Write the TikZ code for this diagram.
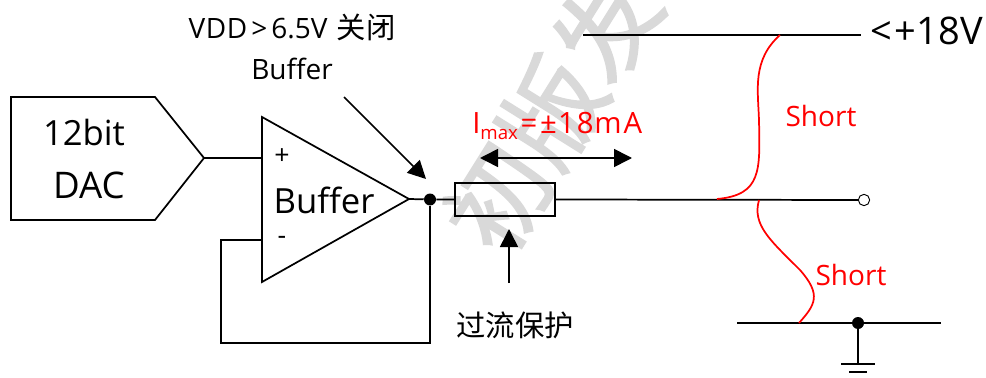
\documentclass[tikz,border=0pt]{standalone}
\usepackage{fontspec}
\setmainfont{Open Sans}
\newfontfamily\cjk{Noto Sans CJK SC}
\newfontfamily\wmfont[FakeBold=1.6]{Noto Sans CJK SC}
\usetikzlibrary{arrows.meta}
\definecolor{wm}{RGB}{217,217,217}
\tikzset{
  x=0.75pt,y=-0.75pt,
  thinw/.style={line width=1.3pt,black},
  redc/.style={line width=1.3pt,red},
  arr/.style={line width=1.2pt,black,-{Triangle[length=13.5pt,width=13.5pt]}},
  darr/.style={line width=1.2pt,black,{Triangle[length=13.5pt,width=13.5pt]}-{Triangle[length=13.5pt,width=13.5pt]}},
  lab/.style={inner sep=0pt,font=\fontsize{21}{25}\selectfont},
  big/.style={inner sep=0pt,font=\fontsize{26}{30}\selectfont},
  dotn/.style={circle,fill=black,inner sep=0pt,minimum size=9pt},
}
\begin{document}
\begin{tikzpicture}
\useasboundingbox (0,0) rectangle (986,378);
% watermark
\begin{scope}
\clip (0,0) rectangle (986,378);
\node[text=wm,rotate=58,inner sep=0pt,font=\wmfont\fontsize{76}{78}\selectfont] (wmark) at (552,112) {初版发};
\end{scope}
% DAC
\draw[thinw] (11,97) -- (155,97) -- (204,158) -- (155,220) -- (11,220) -- cycle;
\coordinate (dacout) at (204,158);
\node[big] (t12) at (84,133) {12bit};
\node[big,font=\fontsize{27.5}{30}\selectfont] (tdac) at (89,185) {DAC};
% opamp
\draw[thinw] (262,117) -- (409,199) -- (262,282) -- cycle;
\coordinate (opout) at (409,199);
\coordinate (opp) at (262,158);
\coordinate (opm) at (262,240);
\node[big] (tbuf) at (324,200) {Buffer};
\node[lab,font=\fontsize{20}{22}\selectfont] (tplus) at (282,157) {+};
\node[lab,font=\fontsize{20}{22}\selectfont] (tminus) at (282,240) {-};
\draw[thinw] (dacout) -- (opp);
\node[dotn] (jn) at (430,199.5) {};
\node[draw=black,line width=1.3pt,minimum width=74.5pt,minimum height=24.5pt,inner sep=0pt] (res) at (505,199.5) {};
\draw[thinw] (opout) -- (jn) -- (res.west);
\draw[thinw] (opm) -- (221,240) -- (221,343) -- (430,343) -- (jn);
% output
\node[circle,draw=black,line width=.7pt,fill=white,minimum size=8.5pt,inner sep=0pt] (outc) at (864,200) {};
\draw[thinw] (res.east) -- (outc);
% supply
\coordinate (sa) at (583,35);
\coordinate (sb) at (861,35);
\draw[thinw] (sa) -- (sb);
\node[big,anchor=east,font=\fontsize{28.5}{30}\selectfont] (v18) at (983,31) {<\kern2pt+18V};
% gnd
\coordinate (ga) at (737,323);
\coordinate (gb) at (941,323);
\draw[thinw] (ga) -- (gb);
\node[dotn] (gd) at (858,323) {};
\coordinate (g1) at (858,364);
\draw[thinw] (gd) -- (g1);
\draw[line width=2pt] (841,364) -- (875,364);
\draw[line width=2pt] (849,372) -- (867,372);
% red
\draw[redc] (780,35) .. controls (752,60) and (758,90) .. (759,120) .. controls (760,170) and (762,195) .. (717,199);
\draw[redc] (759,200) .. controls (752,225) and (770,240) .. (800,270) .. controls (822,295) and (815,305) .. (799,323);
\node[lab,text=red] (s1) at (821,116) {Short};
\node[lab,text=red] (s2) at (851,275) {Short};
\node[lab,text=red,anchor=west,font=\fontsize{22}{25}\selectfont] (imax) at (472,126) {I\raisebox{-4pt}{\fontsize{14}{16}\selectfont max}\kern2pt=\kern2pt±\kern1pt1\kern1.5pt8\kern.5ptm\kern1.5ptA};
% arrows
\coordinate (d1) at (480,158);
\coordinate (d2) at (632,158);
\draw[darr] (d1) -- (d2);
\coordinate (u1) at (509,283);
\coordinate (u2) at (509,229);
\draw[arr] (u1) -- (u2);
\coordinate (n1) at (344,97);
\coordinate (n2) at (426,179);
\draw[arr] (n1) -- (n2);
\node[lab] (vdd) at (292,27) {V\kern.5ptD\kern.5ptD\kern3pt>\kern3pt6.5V\kern7pt{\cjk\fontsize{22}{25}\selectfont 关闭}};
\node[lab] (buf2) at (292,69) {Buffer};
\node[lab,font=\cjk\fontsize{22}{25}\selectfont] (gl) at (515,325) {过流保护};
\end{tikzpicture}
\end{document}
